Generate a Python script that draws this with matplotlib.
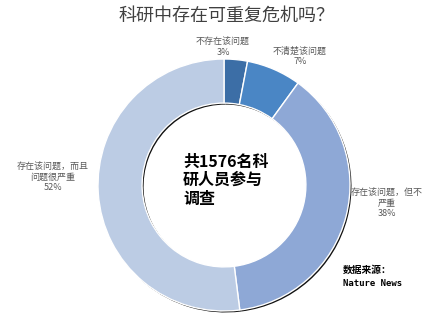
import matplotlib
matplotlib.use("Agg")
import matplotlib.pyplot as plt

plt.rcParams['font.family'] = ['Noto Sans CJK SC', 'DejaVu Sans']

# data
categories = ['不存在该问题', '不清楚该问题', '存在该问题，但不\n严重', '存在该问题，而且\n问题很严重']
values = [3, 7, 38, 52]
colors = ['#3C6EA6', '#4A86C5', '#8EA8D6', '#BCCCE4']

W, H = 447, 336
fig = plt.figure(figsize=(W / 100, H / 100), dpi=100)
ax = fig.add_axes([0, 0, 1, 1])

cx, cy = 224, H - 185
r_out = 126
ring = 0.35

# thin dark shadow under the ring
ax.pie(values, startangle=90, counterclock=False, center=(cx + 1.5, cy - 1.5),
       radius=r_out, colors=['#111111'] * 4,
       wedgeprops=dict(width=r_out * ring, linewidth=0), frame=True)

ax.pie(values, startangle=90, counterclock=False, center=(cx, cy),
       radius=r_out, colors=colors,
       wedgeprops=dict(width=r_out * ring, edgecolor='white', linewidth=1.0),
       frame=True)
ax.set_xlim(0, W)
ax.set_ylim(0, H)
ax.set_aspect('equal')
ax.axis('off')

# label positions (pixel coords from top)
label_pos = [(223, 47), (300, 56), (387, 203), (53, 177)]
for cat, v, (x, y) in zip(categories, values, label_pos):
    ax.text(x, H - y, f'{cat}\n{v}%', ha='center', va='center',
            fontsize=6.5, color='#595959', linespacing=1.15)

ax.text(227, H - 16, '科研中存在可重复危机吗？', ha='center', va='center',
        fontsize=13, color='#404040')

ax.text(183, H - 180, '共1576名科\n研人员参与\n调查', ha='left', va='center',
        fontsize=11.5, color='black', fontweight='bold', linespacing=1.2)

ax.text(343, H - 270, '数据来源：', ha='left', va='center',
        fontsize=7, color='black', fontweight='bold')
ax.text(343, H - 284, 'Nature News', ha='left', va='center',
        fontsize=6.5, color='black', family=['DejaVu Sans Mono'], fontweight='bold')

fig.savefig('out.png', dpi=100)
